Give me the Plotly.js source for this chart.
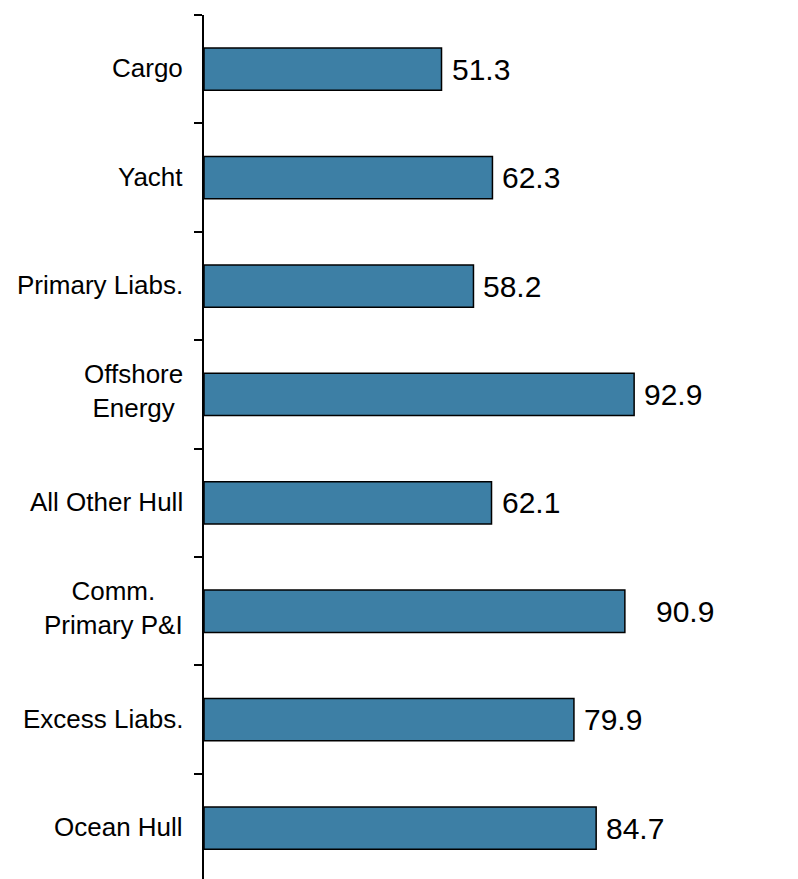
<!DOCTYPE html>
<html>
<head>
<meta charset="utf-8">
<script src="https://cdn.plot.ly/plotly-3.0.1.min.js"></script>
<style>
  html, body { margin: 0; padding: 0; background: #ffffff; }
  #chart { width: 798px; height: 879px; }
</style>
</head>
<body>
<div id="chart"></div>
<script>
// Lines of business, listed top to bottom
const categories = [
  "Cargo",
  "Yacht",
  "Primary Liabs.",
  "Offshore<br>Energy",
  "All Other Hull",
  "Comm.<br>Primary P&I",
  "Excess Liabs.",
  "Ocean Hull"
];
const values = [51.3, 62.3, 58.2, 92.9, 62.1, 90.9, 79.9, 84.7];
const valueLabels = ["51.3", "62.3", "58.2", "92.9", "62.1", "90.9", "79.9", "84.7"];

const FONT = "Arial, 'Liberation Sans', Helvetica, sans-serif";
const BAR_COLOR = "#3d7fa5";

// category indices used as the y positions
const yIdx = categories.map((_, i) => i);

const bars = {
  type: "bar",
  orientation: "h",
  x: values,
  y: yIdx,
  width: 0.39,
  marker: { color: BAR_COLOR, line: { color: "#000000", width: 1.5 } },
  hoverinfo: "skip",
  showlegend: false
};

// extra horizontal spacing for individual value labels (pixels)
const labelNudge = [0, 0, 0, 0, 0, 21, 0, 0];

const valueAnnotations = values.map((v, i) => ({
  x: v, y: i, xref: "x", yref: "y",
  xanchor: "left", yanchor: "middle",
  xshift: 8 + labelNudge[i],
  text: valueLabels[i],
  showarrow: false,
  font: { family: FONT, size: 30, color: "#000000" }
}));

// category names sit left of the axis; two-line names are centred line by line
const categoryAnnotations = categories.map((c, i) => ({
  x: 0, y: i, xref: "paper", yref: "y",
  xanchor: "right", yanchor: "middle",
  xshift: -19,
  yshift: c.includes("<br>") ? 3 : 1,
  align: "center",
  text: c,
  showarrow: false,
  font: { family: FONT, size: 26, color: "#000000" }
}));

const layout = {
  width: 798,
  height: 879,
  margin: { l: 204, r: 131, t: 15, b: 0, pad: 0 },
  paper_bgcolor: "#ffffff",
  plot_bgcolor: "#ffffff",
  xaxis: {
    range: [0, 100],
    visible: false,
    fixedrange: true
  },
  yaxis: {
    type: "linear",
    range: [7.47, -0.5],
    tickmode: "array",
    // ticks fall on the boundaries between categories
    tickvals: [-0.5, 0.5, 1.5, 2.5, 3.5, 4.5, 5.5, 6.5, 7.5],
    showticklabels: false,
    ticks: "outside",
    ticklen: 8,
    tickwidth: 2,
    tickcolor: "#000000",
    showline: true,
    linecolor: "#000000",
    linewidth: 2,
    showgrid: false,
    zeroline: false,
    fixedrange: true
  },
  annotations: categoryAnnotations.concat(valueAnnotations),
  font: { family: FONT, color: "#000000" }
};

Plotly.newPlot("chart", [bars], layout, { displayModeBar: false, staticPlot: true });
</script>
</body>
</html>
